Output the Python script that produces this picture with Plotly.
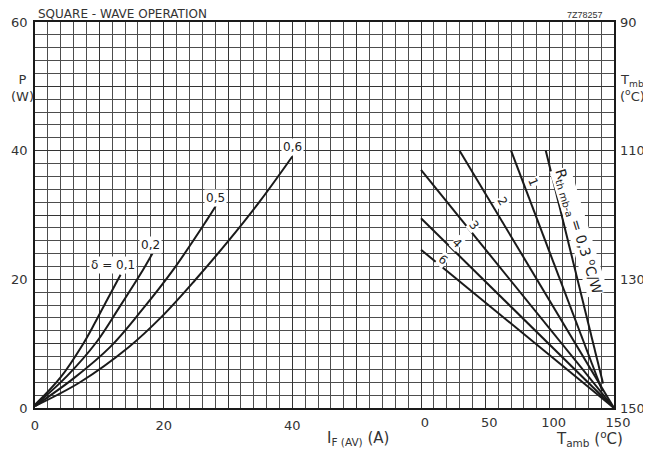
import plotly.graph_objects as go

# ---- data ----
# left: power P (W) vs average forward current IF(AV) (A) for duty cycles delta
delta_labels = ["δ = 0,1", "0,2", "0,5", "0,6"]
if_d01 = [0, 4, 7.5, 9.3, 11.2, 13.3]
p_d01 = [0.5, 4.8, 10.0, 13.2, 16.8, 20.7]
if_d02 = [0, 5, 9.6, 13.2, 16.8, 18.3]
p_d02 = [0.4, 5.0, 10.3, 15.8, 21.5, 24.1]
if_d05 = [0, 6, 11.7, 16.6, 21.5, 26.7, 28.1]
p_d05 = [0.3, 4.6, 9.5, 15.2, 21.5, 29.2, 31.4]
if_d06 = [0, 7, 14.5, 19.7, 24.9, 30, 35, 40]
p_d06 = [0.3, 4.0, 9.4, 14.2, 19.9, 25.9, 32.2, 39.1]

# right: P (W) vs ambient temperature Tamb (degC) for Rth mb-a values
rth_labels = ["0,3", "1", "2", "3", "4", "6"]
tamb_start = [97, 70, 30, 0, 0, 0]
p_start = [40, 40, 40, 37, 29.5, 24.6]
tamb_end = [141.5, 141, 150, 150, 150, 150]
p_end = [3.8, 2.6, 0, 0, 0, 0]

# tick labels
p_ticks = [0, 20, 40, 60]
if_ticks = [0, 20, 40]
tamb_ticks = [0, 50, 100, 150]
tmb_ticks = [90, 110, 130, 150]

# ---- figure ----
FONT = "DejaVu Sans"
INK = "#1a1a1a"
TXT = "#333333"
fig = go.Figure()

left_x = [if_d01, if_d02, if_d05, if_d06]
left_y = [p_d01, p_d02, p_d05, p_d06]
for xs, ys, name in zip(left_x, left_y, delta_labels):
    fig.add_trace(go.Scatter(x=xs, y=ys, mode="lines", name=name,
                             line=dict(color=INK, width=2, shape="spline", smoothing=1.0),
                             xaxis="x", yaxis="y", hoverinfo="skip"))

for t0, p0, t1, p1, name in zip(tamb_start, p_start, tamb_end, p_end, rth_labels):
    fig.add_trace(go.Scatter(x=[t0, t1], y=[p0, p1], mode="lines", name=name,
                             line=dict(color=INK, width=2),
                             xaxis="x2", yaxis="y", hoverinfo="skip"))

# invisible trace so the right-hand Tmb axis is drawn
fig.add_trace(go.Scatter(x=[0], y=[150], mode="markers", marker=dict(opacity=0),
                         xaxis="x", yaxis="y2", hoverinfo="skip", showlegend=False))

xvals = list(range(0, 91, 10))
xtext = [str(v) if v in if_ticks else "" for v in xvals]
yvals = list(range(0, 61, 10))
ytext = [str(v) if v in p_ticks else "" for v in yvals]

TICKFONT = dict(family=FONT, size=13, color=TXT)
grid_common = dict(showgrid=True, gridcolor="#333333", gridwidth=1.1,
                   zeroline=False, showline=True, linecolor=INK, linewidth=1.5, mirror=True,
                   ticks="", tickfont=TICKFONT, fixedrange=True, automargin=False)
minor = dict(dtick=2, showgrid=True, gridcolor="#4d4d4d", gridwidth=1)

# the page body adds an 8px offset, so the figure is 8px smaller than the window
fig.update_layout(
    width=643, height=445,
    margin=dict(l=27, r=37, t=14, b=45, autoexpand=False),
    paper_bgcolor="white", plot_bgcolor="white",
    showlegend=False,
    font=dict(family=FONT, size=13, color=TXT),
    xaxis=dict(range=[0, 90], tickvals=xvals, ticktext=xtext, minor=minor,
               ticklabelstandoff=5, **grid_common),
    xaxis2=dict(range=[-300, 150], overlaying="x", side="bottom", anchor="y",
                tickvals=tamb_ticks, ticktext=[str(v) for v in tamb_ticks],
                showgrid=False, zeroline=False, showline=False, ticks="",
                ticklabelstandoff=5, ticklabelshift=4, automargin=False,
                tickfont=TICKFONT, fixedrange=True),
    yaxis=dict(range=[0, 60], tickvals=yvals, ticktext=ytext, minor=minor,
               ticklabelstandoff=3, **grid_common),
    yaxis2=dict(range=[150, 90], overlaying="y", side="right", anchor="x",
                tickvals=tmb_ticks, ticktext=[str(v) for v in tmb_ticks],
                showgrid=False, zeroline=False, showline=False, ticks="",
                ticklabelstandoff=5, automargin=False,
                tickfont=TICKFONT, fixedrange=True),
)

ann = []
# title and code
ann.append(dict(text="SQUARE - WAVE OPERATION", xref="paper", yref="paper", x=0.002, y=1.0,
                xanchor="left", yanchor="bottom", showarrow=False, yshift=-1,
                font=dict(family=FONT, size=12, color=TXT)))
ann.append(dict(text="7Z78257", xref="paper", yref="paper", x=0.985, y=1.0,
                xanchor="right", yanchor="bottom", showarrow=False, yshift=0,
                font=dict(family="Liberation Sans", size=9, color=TXT)))
# axis titles
ann.append(dict(text="P<br>(W)", xref="paper", yref="paper", x=-0.022, y=0.83,
                xanchor="center", yanchor="middle", showarrow=False,
                font=dict(family=FONT, size=13, color=TXT)))
ann.append(dict(text="T<sub>mb</sub><br>(<sup>o</sup>C)", xref="paper", yref="paper", x=1.032, y=0.83,
                xanchor="center", yanchor="middle", showarrow=False,
                font=dict(family=FONT, size=13, color=TXT)))
ann.append(dict(text="I<sub>F (AV)</sub> (A)", xref="paper", yref="paper", x=0.558, y=-0.078,
                xanchor="center", yanchor="middle", showarrow=False,
                font=dict(family=FONT, size=15, color=TXT)))
ann.append(dict(text="T<sub>amb</sub> (<sup>o</sup>C)", xref="paper", yref="paper", x=0.958, y=-0.08,
                xanchor="center", yanchor="middle", showarrow=False,
                font=dict(family=FONT, size=15, color=TXT)))

# duty-cycle labels (data coords)
d_pos = [(12.05, 22.3), (18.0, 25.4), (28.1, 32.7), (40.1, 40.6)]
for (lx, ly), t in zip(d_pos, delta_labels):
    ann.append(dict(text=t, x=lx, y=ly, xref="x", yref="y", showarrow=False,
                    bgcolor="white", borderpad=1,
                    font=dict(family=FONT, size=12, color="#222222")))

# Rth labels (Tamb coords), rotated along lines
r_pos = [(122.5, 27.5, 73), (87.5, 35.2, 68), (62.9, 32.1, 59),
         (41.0, 28.4, 51), (27.9, 25.6, 45), (17.3, 23.0, 39)]
r_text = ["R<sub>th mb-a</sub> = 0,3 <sup>o</sup>C/W", "1", "2", "3", "4", "6"]
r_size = [14, 12, 12, 12, 12, 12]
for (lx, ly, ang), t, s in zip(r_pos, r_text, r_size):
    ann.append(dict(text=t, x=lx, y=ly, xref="x2", yref="y", showarrow=False,
                    textangle=ang, bgcolor="white", borderpad=0,
                    font=dict(family=FONT, size=s, color="#222222")))

fig.update_layout(annotations=ann)
fig.write_html("out.html")
